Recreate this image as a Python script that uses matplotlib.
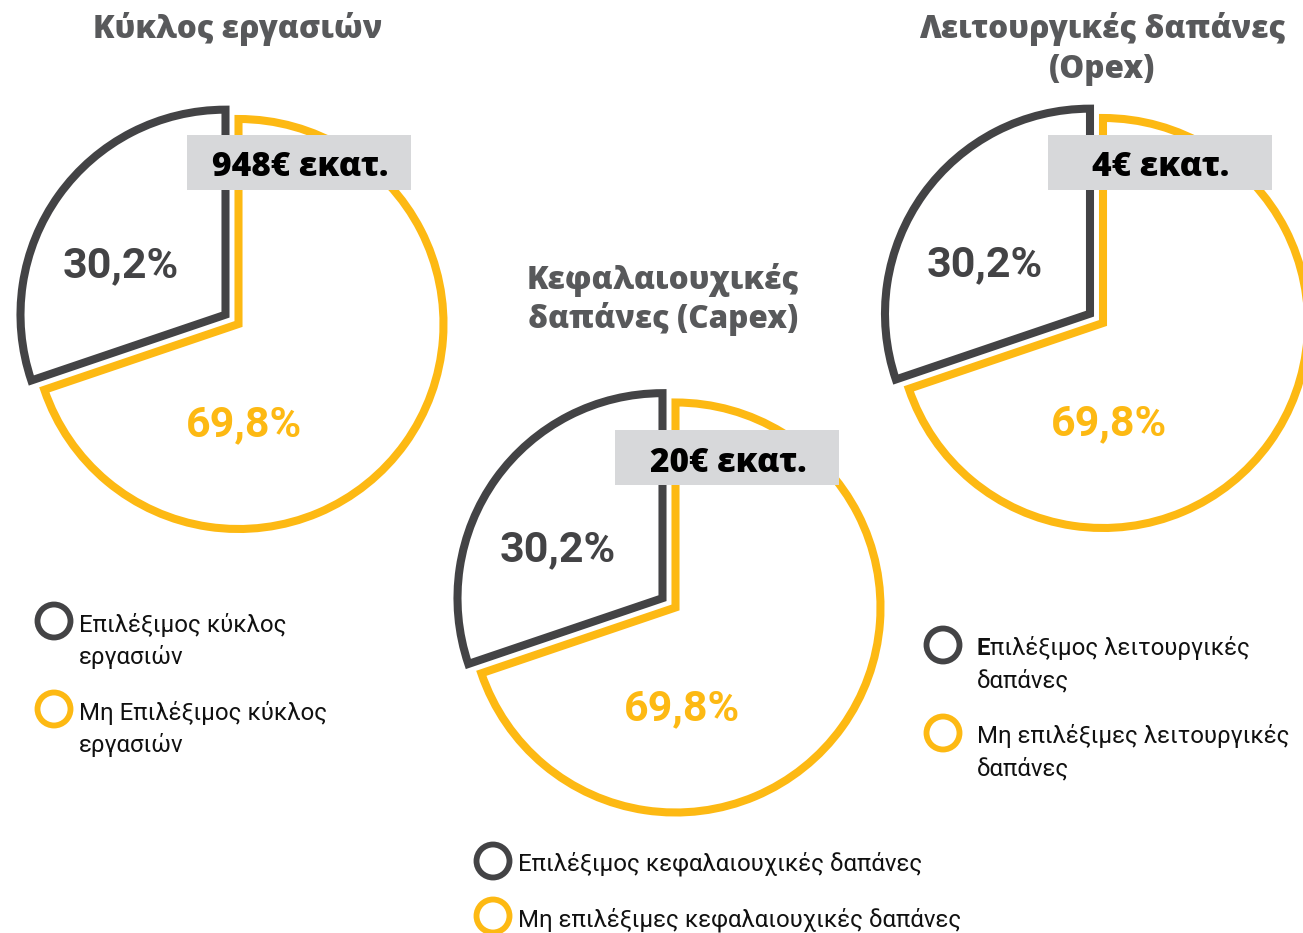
import matplotlib
matplotlib.use('Agg')
import matplotlib.pyplot as plt
from matplotlib.patches import Circle, Rectangle
from matplotlib.transforms import offset_copy

# ---------------- data ----------------
shares = [30.2, 69.8]
pct_labels = ['30,2%', '69,8%']
chart_titles = [
    ['Κύκλος εργασιών'],
    ['Κεφαλαιουχικές', 'δαπάνες (Capex)'],
    ['Λειτουργικές δαπάνες', '(Opex)'],
]
amounts = ['948€ εκατ.', '20€ εκατ.', '4€ εκατ.']
legend_labels = [
    ['Επιλέξιμος κύκλος\nεργασιών', 'Μη Επιλέξιμος κύκλος\nεργασιών'],
    ['Επιλέξιμος κεφαλαιουχικές δαπάνες', 'Μη επιλέξιμες κεφαλαιουχικές δαπάνες'],
    ['Επιλέξιμος λειτουργικές\nδαπάνες', 'Μη επιλέξιμες λειτουργικές\nδαπάνες'],
]
bold_first_letter = [False, False, True]

# ---------------- style / layout ----------------
W, H = 1303, 933
DARK = '#434345'
YELLOW = '#FDB913'
TITLE_GRAY = '#58595B'
BOX_GRAY = '#D7D8DA'

centers = [(238.5, 324), (675.5, 607.5), (1103, 323)]
radius = 205
explode_px = 16
boxes = [(187, 135, 224, 55), (615, 430, 224, 55), (1048, 135, 224, 55)]
title_baselines = [[38], [289, 328], [38, 78]]
title_x = [238, 663, 1102]
legend_markers = [[(54, 621), (54, 709)], [(493, 861), (493, 916)], [(943, 645), (943, 733)]]
legend_text_x = [79, 518, 977]
legend_first_baseline = [[632, 720], [870, 926], [655, 743]]
line_gap = 32

fig = plt.figure(figsize=(W / 100, H / 100), dpi=100)
ax = fig.add_axes([0, 0, 1, 1])


def Y(y):
    return H - y


for i, (cx, cy) in enumerate(centers):
    wedges, _ = ax.pie(shares, colors=['white', 'white'], startangle=90, counterclock=True,
                       radius=radius, center=(cx, Y(cy)), explode=[explode_px, 0],
                       wedgeprops=dict(linewidth=5.8, joinstyle='miter'), frame=False)
    wedges[0].set_edgecolor(DARK)
    wedges[1].set_edgecolor(YELLOW)
    wedges[0].set_zorder(2)
    wedges[1].set_zorder(2)

    # percentage labels
    ax.text(cx - 118, Y(cy - 62 + 15.5), pct_labels[0], ha='center', va='baseline',
            fontsize=31, fontweight='bold', family='Roboto', color=DARK, zorder=5)
    ax.text(cx + 6, Y(cy + 97 + 15.5), pct_labels[1], ha='center', va='baseline',
            fontsize=31, fontweight='bold', family='Roboto', color=YELLOW, zorder=5)

    # amount box
    bx, by, bw, bh = boxes[i]
    ax.add_patch(Rectangle((bx, Y(by + bh)), bw, bh, facecolor=BOX_GRAY, edgecolor='none', zorder=4))
    ax.text(bx + bw / 2 + 1, Y(by + bh / 2 + 14), amounts[i], ha='center', va='baseline',
            fontsize=24, fontweight='heavy', family='Open Sans', color='black', zorder=5)

    # titles
    for line, yb in zip(chart_titles[i], title_baselines[i]):
        ax.text(title_x[i], Y(yb), line, ha='center', va='baseline', fontsize=22.6,
                fontweight='heavy', family='Open Sans', color=TITLE_GRAY, zorder=5)

    # legends
    for j, col in enumerate([DARK, YELLOW]):
        mx, my = legend_markers[i][j]
        ax.add_patch(Circle((mx, Y(my)), 16.5, facecolor='none', edgecolor=col,
                            linewidth=4.2, zorder=5))

fig.canvas.draw()
renderer = fig.canvas.get_renderer()

for i in range(3):
    for j in range(2):
        lines = legend_labels[i][j].split('\n')
        yb0 = legend_first_baseline[i][j]
        for k, line in enumerate(lines):
            x = legend_text_x[i]
            y = Y(yb0 + k * line_gap)
            if k == 0 and j == 0 and bold_first_letter[i]:
                t1 = ax.text(x, y, line[0], ha='left', va='baseline', fontsize=17.3,
                             fontweight='bold', family='Roboto', color='#111111', zorder=5)
                w = t1.get_window_extent(renderer).width
                ax.text(x, y, line[1:], ha='left', va='baseline', fontsize=17.3,
                        family='Roboto', color='#111111', zorder=5,
                        transform=offset_copy(ax.transData, fig=fig, x=w, y=0, units='dots'))
            else:
                ax.text(x, y, line, ha='left', va='baseline', fontsize=17.3,
                        family='Roboto', color='#111111', zorder=5)

ax.set_xlim(0, W)
ax.set_ylim(0, H)
ax.set_aspect('auto')
ax.axis('off')

fig.savefig('out.png', dpi=100, facecolor='white')
